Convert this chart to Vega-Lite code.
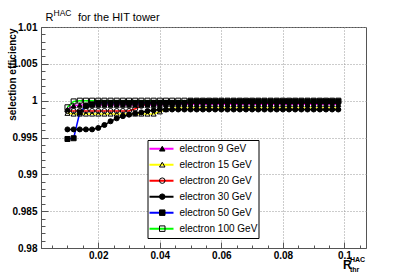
{
"$schema": "https://vega.github.io/schema/vega-lite/v6.json",
"width": 325, "height": 221,
"autosize": "none",
"padding": {"left": 41, "top": 27, "right": 41, "bottom": 27},
"background": "white",
"config": {
  "font": "Liberation Sans",
  "view": {"stroke": "#555", "strokeWidth": 1},
  "axis": {"domainColor": "#555", "tickColor": "#555", "gridColor": "#999", "gridDash": [1, 2], "labelColor": "black", "titleColor": "black", "labelFlush": false, "labelOverlap": false}
},
"data": {"values": [
{"e":9,"x":0.01,"y":0.9988},{"e":9,"x":0.012,"y":0.9993},{"e":9,"x":0.014,"y":0.9994},{"e":9,"x":0.016,"y":0.9994},{"e":9,"x":0.018,"y":0.9994},{"e":9,"x":0.02,"y":0.9994},{"e":9,"x":0.022,"y":0.9994},{"e":9,"x":0.024,"y":0.9994},{"e":9,"x":0.026,"y":0.9994},{"e":9,"x":0.028,"y":0.9994},{"e":9,"x":0.03,"y":0.9994},{"e":9,"x":0.032,"y":0.9994},{"e":9,"x":0.034,"y":0.9994},{"e":9,"x":0.036,"y":0.9994},{"e":9,"x":0.038,"y":0.9994},{"e":9,"x":0.04,"y":0.9994},{"e":9,"x":0.042,"y":0.9995},{"e":9,"x":0.044,"y":0.9995},{"e":9,"x":0.046,"y":0.9995},{"e":9,"x":0.048,"y":0.9995},{"e":9,"x":0.05,"y":0.9995},{"e":9,"x":0.052,"y":0.9995},{"e":9,"x":0.054,"y":0.9995},{"e":9,"x":0.056,"y":0.9995},{"e":9,"x":0.058,"y":0.9995},{"e":9,"x":0.06,"y":0.9995},{"e":9,"x":0.062,"y":0.9995},{"e":9,"x":0.064,"y":0.9995},{"e":9,"x":0.066,"y":0.9995},{"e":9,"x":0.068,"y":0.9995},{"e":9,"x":0.07,"y":0.9995},{"e":9,"x":0.072,"y":0.9995},{"e":9,"x":0.074,"y":0.9995},{"e":9,"x":0.076,"y":0.9995},{"e":9,"x":0.078,"y":0.9995},{"e":9,"x":0.08,"y":0.9995},{"e":9,"x":0.082,"y":0.9995},{"e":9,"x":0.084,"y":0.9995},{"e":9,"x":0.086,"y":0.9995},{"e":9,"x":0.088,"y":0.9995},{"e":9,"x":0.09,"y":0.9995},{"e":9,"x":0.092,"y":0.9995},{"e":9,"x":0.094,"y":0.9995},{"e":9,"x":0.096,"y":0.9995},{"e":9,"x":0.098,"y":0.9995},
{"e":15,"x":0.01,"y":0.9983},{"e":15,"x":0.012,"y":0.9982},{"e":15,"x":0.014,"y":0.9982},{"e":15,"x":0.016,"y":0.9982},{"e":15,"x":0.018,"y":0.9982},{"e":15,"x":0.02,"y":0.9982},{"e":15,"x":0.022,"y":0.9982},{"e":15,"x":0.024,"y":0.9982},{"e":15,"x":0.026,"y":0.9982},{"e":15,"x":0.028,"y":0.9982},{"e":15,"x":0.03,"y":0.9982},{"e":15,"x":0.032,"y":0.9982},{"e":15,"x":0.034,"y":0.9982},{"e":15,"x":0.036,"y":0.9982},{"e":15,"x":0.038,"y":0.9982},{"e":15,"x":0.04,"y":0.9985},{"e":15,"x":0.042,"y":0.9988},{"e":15,"x":0.044,"y":0.999},{"e":15,"x":0.046,"y":0.999},{"e":15,"x":0.048,"y":0.999},{"e":15,"x":0.05,"y":0.999},{"e":15,"x":0.052,"y":0.999},{"e":15,"x":0.054,"y":0.999},{"e":15,"x":0.056,"y":0.999},{"e":15,"x":0.058,"y":0.999},{"e":15,"x":0.06,"y":0.999},{"e":15,"x":0.062,"y":0.999},{"e":15,"x":0.064,"y":0.999},{"e":15,"x":0.066,"y":0.999},{"e":15,"x":0.068,"y":0.999},{"e":15,"x":0.07,"y":0.999},{"e":15,"x":0.072,"y":0.999},{"e":15,"x":0.074,"y":0.999},{"e":15,"x":0.076,"y":0.999},{"e":15,"x":0.078,"y":0.999},{"e":15,"x":0.08,"y":0.999},{"e":15,"x":0.082,"y":0.999},{"e":15,"x":0.084,"y":0.999},{"e":15,"x":0.086,"y":0.999},{"e":15,"x":0.088,"y":0.999},{"e":15,"x":0.09,"y":0.999},{"e":15,"x":0.092,"y":0.999},{"e":15,"x":0.094,"y":0.999},{"e":15,"x":0.096,"y":0.999},{"e":15,"x":0.098,"y":0.999},
{"e":20,"x":0.01,"y":0.9986},{"e":20,"x":0.012,"y":0.9986},{"e":20,"x":0.014,"y":0.9986},{"e":20,"x":0.016,"y":0.9986},{"e":20,"x":0.018,"y":0.9986},{"e":20,"x":0.02,"y":0.9986},{"e":20,"x":0.022,"y":0.9986},{"e":20,"x":0.024,"y":0.9986},{"e":20,"x":0.026,"y":0.9986},{"e":20,"x":0.028,"y":0.9986},{"e":20,"x":0.03,"y":0.9986},{"e":20,"x":0.032,"y":0.9989},{"e":20,"x":0.034,"y":0.9993},{"e":20,"x":0.036,"y":0.9996},{"e":20,"x":0.038,"y":0.9997},{"e":20,"x":0.04,"y":0.9997},{"e":20,"x":0.042,"y":0.9997},{"e":20,"x":0.044,"y":0.9997},{"e":20,"x":0.046,"y":0.9997},{"e":20,"x":0.048,"y":0.9997},{"e":20,"x":0.05,"y":0.9997},{"e":20,"x":0.052,"y":0.9997},{"e":20,"x":0.054,"y":0.9997},{"e":20,"x":0.056,"y":0.9997},{"e":20,"x":0.058,"y":0.9997},{"e":20,"x":0.06,"y":0.9997},{"e":20,"x":0.062,"y":0.9997},{"e":20,"x":0.064,"y":0.9997},{"e":20,"x":0.066,"y":0.9997},{"e":20,"x":0.068,"y":0.9997},{"e":20,"x":0.07,"y":0.9997},{"e":20,"x":0.072,"y":0.9997},{"e":20,"x":0.074,"y":0.9997},{"e":20,"x":0.076,"y":0.9997},{"e":20,"x":0.078,"y":0.9997},{"e":20,"x":0.08,"y":0.9997},{"e":20,"x":0.082,"y":0.9997},{"e":20,"x":0.084,"y":0.9997},{"e":20,"x":0.086,"y":0.9997},{"e":20,"x":0.088,"y":0.9997},{"e":20,"x":0.09,"y":0.9997},{"e":20,"x":0.092,"y":0.9997},{"e":20,"x":0.094,"y":0.9997},{"e":20,"x":0.096,"y":0.9997},{"e":20,"x":0.098,"y":0.9997},
{"e":30,"x":0.01,"y":0.9961},{"e":30,"x":0.012,"y":0.9961},{"e":30,"x":0.014,"y":0.9961},{"e":30,"x":0.016,"y":0.9961},{"e":30,"x":0.018,"y":0.9961},{"e":30,"x":0.02,"y":0.9963},{"e":30,"x":0.022,"y":0.9967},{"e":30,"x":0.024,"y":0.9972},{"e":30,"x":0.026,"y":0.9976},{"e":30,"x":0.028,"y":0.9979},{"e":30,"x":0.03,"y":0.9981},{"e":30,"x":0.032,"y":0.9983},{"e":30,"x":0.034,"y":0.9984},{"e":30,"x":0.036,"y":0.9986},{"e":30,"x":0.038,"y":0.9987},{"e":30,"x":0.04,"y":0.9988},{"e":30,"x":0.042,"y":0.9988},{"e":30,"x":0.044,"y":0.9988},{"e":30,"x":0.046,"y":0.9988},{"e":30,"x":0.048,"y":0.9988},{"e":30,"x":0.05,"y":0.9988},{"e":30,"x":0.052,"y":0.9988},{"e":30,"x":0.054,"y":0.9988},{"e":30,"x":0.056,"y":0.9988},{"e":30,"x":0.058,"y":0.9988},{"e":30,"x":0.06,"y":0.9988},{"e":30,"x":0.062,"y":0.9988},{"e":30,"x":0.064,"y":0.9988},{"e":30,"x":0.066,"y":0.9988},{"e":30,"x":0.068,"y":0.9988},{"e":30,"x":0.07,"y":0.9988},{"e":30,"x":0.072,"y":0.9988},{"e":30,"x":0.074,"y":0.9988},{"e":30,"x":0.076,"y":0.9988},{"e":30,"x":0.078,"y":0.9988},{"e":30,"x":0.08,"y":0.9988},{"e":30,"x":0.082,"y":0.9988},{"e":30,"x":0.084,"y":0.9988},{"e":30,"x":0.086,"y":0.9988},{"e":30,"x":0.088,"y":0.9988},{"e":30,"x":0.09,"y":0.9988},{"e":30,"x":0.092,"y":0.9988},{"e":30,"x":0.094,"y":0.9988},{"e":30,"x":0.096,"y":0.9988},{"e":30,"x":0.098,"y":0.9988},
{"e":50,"x":0.01,"y":0.9948},{"e":50,"x":0.012,"y":0.9949},{"e":50,"x":0.014,"y":0.9984},{"e":50,"x":0.016,"y":0.9993},{"e":50,"x":0.018,"y":0.9995},{"e":50,"x":0.02,"y":0.9997},{"e":50,"x":0.022,"y":0.9997},{"e":50,"x":0.024,"y":0.9997},{"e":50,"x":0.026,"y":0.9997},{"e":50,"x":0.028,"y":0.9997},{"e":50,"x":0.03,"y":0.9997},{"e":50,"x":0.032,"y":0.9997},{"e":50,"x":0.034,"y":0.9997},{"e":50,"x":0.036,"y":0.9997},{"e":50,"x":0.038,"y":0.9997},{"e":50,"x":0.04,"y":0.9997},{"e":50,"x":0.042,"y":0.9997},{"e":50,"x":0.044,"y":0.9997},{"e":50,"x":0.046,"y":0.9997},{"e":50,"x":0.048,"y":0.9997},{"e":50,"x":0.05,"y":0.9999},{"e":50,"x":0.052,"y":0.9999},{"e":50,"x":0.054,"y":0.9999},{"e":50,"x":0.056,"y":0.9999},{"e":50,"x":0.058,"y":0.9999},{"e":50,"x":0.06,"y":0.9999},{"e":50,"x":0.062,"y":0.9999},{"e":50,"x":0.064,"y":0.9999},{"e":50,"x":0.066,"y":0.9999},{"e":50,"x":0.068,"y":0.9999},{"e":50,"x":0.07,"y":0.9999},{"e":50,"x":0.072,"y":0.9999},{"e":50,"x":0.074,"y":0.9999},{"e":50,"x":0.076,"y":0.9999},{"e":50,"x":0.078,"y":0.9999},{"e":50,"x":0.08,"y":0.9999},{"e":50,"x":0.082,"y":0.9999},{"e":50,"x":0.084,"y":0.9999},{"e":50,"x":0.086,"y":0.9999},{"e":50,"x":0.088,"y":0.9999},{"e":50,"x":0.09,"y":0.9999},{"e":50,"x":0.092,"y":0.9999},{"e":50,"x":0.094,"y":0.9999},{"e":50,"x":0.096,"y":0.9999},{"e":50,"x":0.098,"y":0.9999},
{"e":100,"x":0.01,"y":0.9991},{"e":100,"x":0.012,"y":0.9999},{"e":100,"x":0.014,"y":1},{"e":100,"x":0.016,"y":1},{"e":100,"x":0.018,"y":1},{"e":100,"x":0.02,"y":1},{"e":100,"x":0.022,"y":1},{"e":100,"x":0.024,"y":1},{"e":100,"x":0.026,"y":1},{"e":100,"x":0.028,"y":1},{"e":100,"x":0.03,"y":1},{"e":100,"x":0.032,"y":1},{"e":100,"x":0.034,"y":1},{"e":100,"x":0.036,"y":1},{"e":100,"x":0.038,"y":1},{"e":100,"x":0.04,"y":1},{"e":100,"x":0.042,"y":1},{"e":100,"x":0.044,"y":1},{"e":100,"x":0.046,"y":1},{"e":100,"x":0.048,"y":1},{"e":100,"x":0.05,"y":1},{"e":100,"x":0.052,"y":1},{"e":100,"x":0.054,"y":1},{"e":100,"x":0.056,"y":1},{"e":100,"x":0.058,"y":1},{"e":100,"x":0.06,"y":1},{"e":100,"x":0.062,"y":1},{"e":100,"x":0.064,"y":1},{"e":100,"x":0.066,"y":1},{"e":100,"x":0.068,"y":1},{"e":100,"x":0.07,"y":1},{"e":100,"x":0.072,"y":1},{"e":100,"x":0.074,"y":1},{"e":100,"x":0.076,"y":1},{"e":100,"x":0.078,"y":1},{"e":100,"x":0.08,"y":1},{"e":100,"x":0.082,"y":1},{"e":100,"x":0.084,"y":1},{"e":100,"x":0.086,"y":1},{"e":100,"x":0.088,"y":1},{"e":100,"x":0.09,"y":1},{"e":100,"x":0.092,"y":1},{"e":100,"x":0.094,"y":1},{"e":100,"x":0.096,"y":1},{"e":100,"x":0.098,"y":1}
]},
"resolve": {"axis": {"x": "independent", "y": "independent"}},
"layer": [
{
  "mark": {"type": "line", "strokeWidth": 1.5},
  "encoding": {
    "x": {"field": "x", "type": "quantitative", "scale": {"domain": [0.0014, 0.107], "nice": false, "zero": false},
      "axis": {"orient": "bottom", "values": [0.02, 0.04, 0.06, 0.08, 0.1], "format": "~g", "tickSize": -6, "labelPadding": 8, "labelFontSize": 10, "labelFontWeight": "bold", "grid": true,
        "title": "R", "titleFontSize": 12, "titleFontWeight": "bold", "titleX": 301.5, "titleY": 20.3, "titleAlign": "left", "titleBaseline": "alphabetic", "titleAngle": 0}},
    "y": {"field": "y", "type": "quantitative", "scale": {"domain": [0.98, 1.01], "nice": false, "zero": false},
      "axis": {"orient": "left", "values": [0.98, 0.985, 0.99, 0.995, 1, 1.005, 1.01], "format": ".4~g", "tickSize": -7, "labelPadding": 11, "labelFontSize": 10, "labelFontWeight": "bold", "grid": true,
        "title": "selection efficiency", "titleFontSize": 10, "titleFontWeight": "bold", "titleAngle": 270, "titleAlign": "right", "titleBaseline": "alphabetic", "titleX": -26, "titleY": 1}},
    "color": {"field": "e", "type": "nominal",
      "scale": {"domain": [9, 15, 20, 30, 50, 100], "range": ["#ff00ff", "#ffff00", "#ff0000", "#000000", "#0000ff", "#00ff00"]},
      "legend": {"orient": "none", "legendX": 106.5, "legendY": 113, "title": null, "symbolType": "stroke", "symbolSize": 576, "symbolStrokeWidth": 2,
        "labelFontSize": 10, "labelColor": "black", "labelOffset": 5, "padding": 1, "rowPadding": 0, "clipHeight": 15.3,
        "strokeColor": "black", "fillColor": "white", "cornerRadius": 0, "zindex": 1,
        "labelExpr": "'electron ' + datum.label + ' GeV'"}}
  }
},
{
  "transform": [{"filter": {"field": "e", "oneOf": [9, 30, 50]}}],
  "mark": {"type": "point", "filled": true, "size": 25, "strokeWidth": 1, "opacity": 1},
  "encoding": {
    "x": {"field": "x", "type": "quantitative", "scale": {"domain": [0.0014, 0.107], "nice": false, "zero": false},
      "axis": {"orient": "bottom", "values": [0.005, 0.01, 0.015, 0.025, 0.03, 0.035, 0.045, 0.05, 0.055, 0.065, 0.07, 0.075, 0.085, 0.09, 0.095, 0.105], "labels": false, "grid": false, "domain": false, "tickSize": -3,
        "title": "HAC", "titleFontSize": 7, "titleFontWeight": "bold", "titleX": 308.5, "titleY": 13.7, "titleAlign": "left", "titleBaseline": "alphabetic", "titleAngle": 0}},
    "y": {"field": "y", "type": "quantitative", "scale": {"domain": [0.98, 1.01], "nice": false, "zero": false},
      "axis": {"orient": "left", "values": [0.981, 0.982, 0.983, 0.984, 0.986, 0.987, 0.988, 0.989, 0.991, 0.992, 0.993, 0.994, 0.996, 0.997, 0.998, 0.999, 1.001, 1.002, 1.003, 1.004, 1.006, 1.007, 1.008, 1.009], "labels": false, "grid": false, "domain": false, "tickSize": -4,
        "title": "R\u00a0\u00a0\u00a0\u00a0\u00a0\u00a0\u00a0\u00a0for the HIT tower", "titleFontSize": 11, "titleFontWeight": "normal", "titleAngle": 0, "titleAlign": "left", "titleBaseline": "alphabetic", "titleX": 4, "titleY": -6.3}},
    "shape": {"field": "e", "type": "nominal", "scale": {"range": ["triangle-up", "triangle-up", "circle", "circle", "square", "square"]},
      "legend": {"orient": "none", "legendX": 106.5, "legendY": 113, "title": null, "symbolSize": 30, "symbolStrokeWidth": 1,
        "labelFontSize": 10, "labelOpacity": 0, "labelOffset": 20, "padding": 1, "rowPadding": 0, "clipHeight": 15.3, "symbolOffset": 8.75, "zindex": 2,
        "labelExpr": "'electron ' + datum.label + ' GeV'"}},
    "fill": {"field": "e", "type": "nominal", "scale": {"range": ["black", "transparent", "transparent", "black", "black", "transparent"]},
      "legend": {"orient": "none", "legendX": 106.5, "legendY": 113, "title": null, "symbolSize": 30, "symbolStrokeWidth": 1,
        "labelFontSize": 10, "labelOpacity": 0, "labelOffset": 20, "padding": 1, "rowPadding": 0, "clipHeight": 15.3, "symbolOffset": 8.75, "zindex": 2,
        "labelExpr": "'electron ' + datum.label + ' GeV'"}},
    "stroke": {"field": "e", "type": "nominal", "scale": {"range": ["black", "black", "black", "black", "black", "black"]},
      "legend": {"orient": "none", "legendX": 106.5, "legendY": 113, "title": null, "symbolSize": 30, "symbolStrokeWidth": 1,
        "labelFontSize": 10, "labelOpacity": 0, "labelOffset": 20, "padding": 1, "rowPadding": 0, "clipHeight": 15.3, "symbolOffset": 8.75, "zindex": 2,
        "labelExpr": "'electron ' + datum.label + ' GeV'"}}
  }
},
{
  "transform": [{"filter": {"field": "e", "oneOf": [15, 20, 100]}}],
  "mark": {"type": "point", "filled": true, "size": 25, "strokeWidth": 1, "opacity": 1},
  "encoding": {
    "x": {"field": "x", "type": "quantitative", "scale": {"domain": [0.0014, 0.107], "nice": false, "zero": false},
      "axis": {"orient": "bottom", "labels": false, "grid": false, "domain": false, "ticks": false,
        "title": "thr", "titleFontSize": 7, "titleFontWeight": "bold", "titleX": 308.5, "titleY": 23, "titleAlign": "left", "titleBaseline": "alphabetic", "titleAngle": 0}},
    "y": {"field": "y", "type": "quantitative", "scale": {"domain": [0.98, 1.01], "nice": false, "zero": false},
      "axis": {"orient": "left", "labels": false, "grid": false, "domain": false, "ticks": false,
        "title": "HAC", "titleFontSize": 8.5, "titleFontWeight": "normal", "titleAngle": 0, "titleAlign": "left", "titleBaseline": "alphabetic", "titleX": 12, "titleY": -12}},
    "shape": {"field": "e", "type": "nominal", "scale": {"range": ["triangle-up", "triangle-up", "circle", "circle", "square", "square"]},
      "legend": {"orient": "none", "legendX": 106.5, "legendY": 113, "title": null, "symbolSize": 30, "symbolStrokeWidth": 1,
        "labelFontSize": 10, "labelOpacity": 0, "labelOffset": 20, "padding": 1, "rowPadding": 0, "clipHeight": 15.3, "symbolOffset": 8.75, "zindex": 2,
        "labelExpr": "'electron ' + datum.label + ' GeV'"}},
    "fill": {"field": "e", "type": "nominal", "scale": {"range": ["black", "transparent", "transparent", "black", "black", "transparent"]},
      "legend": {"orient": "none", "legendX": 106.5, "legendY": 113, "title": null, "symbolSize": 30, "symbolStrokeWidth": 1,
        "labelFontSize": 10, "labelOpacity": 0, "labelOffset": 20, "padding": 1, "rowPadding": 0, "clipHeight": 15.3, "symbolOffset": 8.75, "zindex": 2,
        "labelExpr": "'electron ' + datum.label + ' GeV'"}},
    "stroke": {"field": "e", "type": "nominal", "scale": {"range": ["black", "black", "black", "black", "black", "black"]},
      "legend": {"orient": "none", "legendX": 106.5, "legendY": 113, "title": null, "symbolSize": 30, "symbolStrokeWidth": 1,
        "labelFontSize": 10, "labelOpacity": 0, "labelOffset": 20, "padding": 1, "rowPadding": 0, "clipHeight": 15.3, "symbolOffset": 8.75, "zindex": 2,
        "labelExpr": "'electron ' + datum.label + ' GeV'"}}
  }
}
]
}
